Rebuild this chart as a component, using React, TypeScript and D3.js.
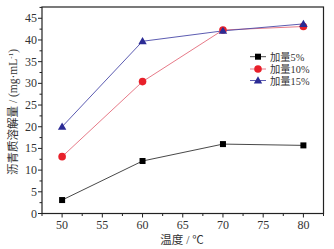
import React from "react";
import * as d3 from "d3";

const temps = [50, 60, 70, 80];
const s5 = [3.1, 12.1, 16.0, 15.7];
const s10 = [13.1, 30.4, 42.3, 43.1];
const s15 = [20.0, 39.7, 42.1, 43.7];
const xTicks = [50, 55, 60, 65, 70, 75, 80];
const yTicks = [0, 5, 10, 15, 20, 25, 30, 35, 40, 45];
const seriesNames = ["加量5%", "加量10%", "加量15%"];

const W = 334, H = 249;
const L = 42, R = 323.5, T = 7, B = 213.5;
const font = "'Liberation Serif', 'Noto Sans CJK SC', serif";

export default function App() {
  const x = d3.scaleLinear().domain([47.5, 82.5]).range([L, R]);
  const y = d3.scaleLinear().domain([0, 47.6]).range([B, T]);
  const line = d3.line<number>().x((_, i) => x(temps[i])).y((d) => y(d));
  const series = [
    { vals: s5, line: "#333", fill: "#000", shape: "square" },
    { vals: s10, line: "#e36b7a", fill: "#e8202a", shape: "circle" },
    { vals: s15, line: "#4a4aa8", fill: "#2b2b95", shape: "triangle" },
  ];
  const marker = (shape: string, cx: number, cy: number, fill: string, key: any) => {
    if (shape === "square") return <rect key={key} x={cx - 3} y={cy - 3} width={6} height={6} fill={fill} />;
    if (shape === "circle") return <circle key={key} cx={cx} cy={cy} r={3.8} fill={fill} />;
    return <path key={key} d={`M${cx},${cy - 4.2}L${cx + 4.2},${cy + 3}L${cx - 4.2},${cy + 3}Z`} fill={fill} />;
  };
  const minorX = d3.range(47.5, 82.6, 2.5).filter((v) => v % 5 !== 0);
  const minorY = d3.range(2.5, 47.6, 5);
  const legendY = [56.7, 69, 80.5];
  return (
    <svg width={W} height={H} style={{ position: "absolute", left: 0, top: 0 }} fontFamily={font}>
      <rect x={0} y={0} width={W} height={H} fill="#fff" />
      {series.map((s, si) => (
        <path key={si} d={line(s.vals) || ""} fill="none" stroke={s.line} strokeWidth={0.9} />
      ))}
      {series.map((s, si) => s.vals.map((v, i) => marker(s.shape, x(temps[i]), y(v), s.fill, `${si}-${i}`)))}
      <rect x={L} y={T} width={R - L} height={B - T} fill="none" stroke="#222" strokeWidth={1.2} />
      {xTicks.map((t) => (
        <g key={t}>
          <line x1={x(t)} x2={x(t)} y1={B} y2={B + 4} stroke="#222" />
          <text x={x(t)} y={B + 15} fontSize={12} textAnchor="middle" fill="#333">{t}</text>
        </g>
      ))}
      {minorX.map((t) => (
        <line key={t} x1={x(t)} x2={x(t)} y1={B} y2={B + 2.5} stroke="#222" />
      ))}
      {yTicks.map((t) => (
        <g key={t}>
          <line x1={L - 4} x2={L} y1={y(t)} y2={y(t)} stroke="#222" />
          <text x={L - 5} y={y(t) + 4} fontSize={12} textAnchor="end" fill="#333">{t}</text>
        </g>
      ))}
      {minorY.map((t) => (
        <line key={t} x1={L - 2.5} x2={L} y1={y(t)} y2={y(t)} stroke="#222" />
      ))}
      <text x={182} y={244} fontSize={11.5} textAnchor="middle" fill="#333">温度 / ℃</text>
      <text transform={`translate(17,112) rotate(-90)`} fontSize={11.5} textAnchor="middle" fill="#333">
        沥青质溶解量 / (mg·mL<tspan dy={-4} fontSize={7}>-1</tspan><tspan dy={4}>)</tspan>
      </text>
      {series.map((s, i) => (
        <g key={i}>
          <line x1={250} x2={266} y1={legendY[i]} y2={legendY[i]} stroke={s.line} strokeWidth={0.9} />
          {marker(s.shape, 258, legendY[i], s.fill, "m")}
          <text x={270} y={legendY[i] + 4} fontSize={10.3} fill="#333">{seriesNames[i]}</text>
        </g>
      ))}
    </svg>
  );
}
